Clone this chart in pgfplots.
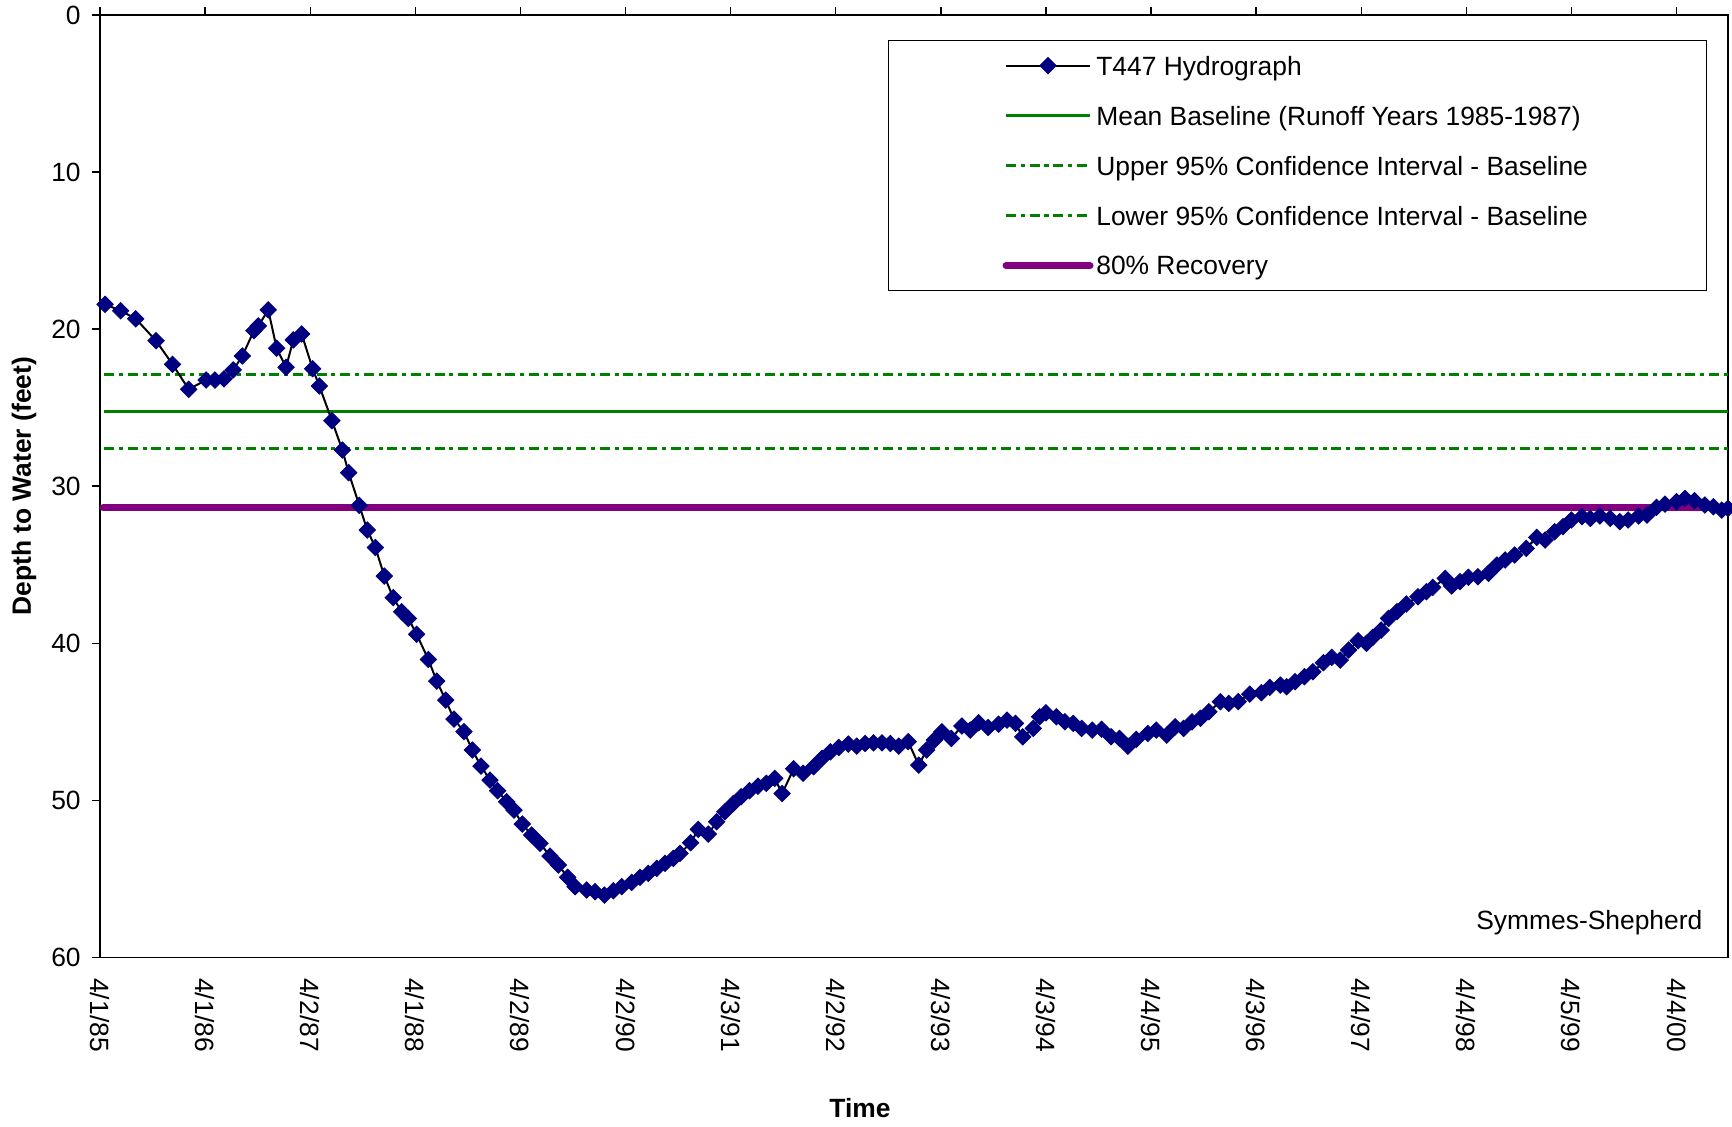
\documentclass[border=0pt]{standalone}
\usepackage{fontspec}
\setmainfont{Liberation Sans}
\usepackage{pgfplots}
\pgfplotsset{compat=1.18}
\definecolor{navy}{RGB}{0,0,128}
\definecolor{cigreen}{RGB}{0,128,0}
\definecolor{recov}{RGB}{128,0,128}
\newcommand{\chartfont}{\fontsize{6.6}{7.9}\selectfont}

% T447 hydrograph, years since 4/1/85 vs depth to water (ft)
\pgfplotstableread{
t d
0.048 18.42
0.197 18.83
0.34 19.34
0.533 20.74
0.69 22.24
0.844 23.83
1.009 23.24
1.094 23.24
1.18 23.16
1.268 22.6
1.354 21.71
1.465 20.1
1.506 19.8
1.601 18.78
1.681 21.22
1.77 22.43
1.839 20.69
1.919 20.31
2.023 22.52
2.087 23.62
2.207 25.83
2.306 27.70
2.366 29.14
2.467 31.22
2.543 32.79
2.62 33.9
2.705 35.72
2.79 37.1
2.87 37.99
2.934 38.42
3.013 39.43
3.124 41.03
3.204 42.41
3.289 43.62
3.368 44.83
3.463 45.63
3.543 46.8
3.625 47.82
3.711 48.71
3.783 49.39
3.869 50.09
3.939 50.62
4.018 51.51
4.107 52.21
4.187 52.74
4.282 53.55
4.361 54.12
4.45 54.9
4.52 55.5
4.63 55.71
4.71 55.82
4.8 56.03
4.884 55.76
4.964 55.5
5.059 55.23
5.138 54.9
5.217 54.65
5.297 54.33
5.376 54.01
5.455 53.7
5.519 53.38
5.62 52.7
5.693 51.85
5.788 52.15
5.867 51.37
5.946 50.73
6.026 50.2
6.10 49.77
6.18 49.39
6.26 49.1
6.34 48.92
6.42 48.6
6.49 49.57
6.60 47.99
6.69 48.28
6.79 47.86
6.87 47.33
6.95 46.91
7.03 46.63
7.12 46.42
7.20 46.55
7.28 46.38
7.36 46.34
7.44 46.34
7.52 46.38
7.60 46.55
7.69 46.27
7.79 47.76
7.865 46.8
7.94 46.16
8.01 45.63
8.10 46.06
8.20 45.27
8.28 45.53
8.36 45.06
8.45 45.36
8.55 45.15
8.63 44.89
8.71 45.1
8.78 45.96
8.88 45.42
8.94 44.68
9.00 44.43
9.10 44.68
9.18 45.0
9.26 45.1
9.34 45.42
9.44 45.53
9.53 45.48
9.62 45.95
9.70 46.06
9.78 46.55
9.86 46.12
9.97 45.74
10.05 45.53
10.15 45.85
10.23 45.32
10.31 45.42
10.39 45.0
10.47 44.78
10.55 44.36
10.66 43.72
10.74 43.83
10.83 43.72
10.94 43.24
11.05 43.15
11.13 42.81
11.23 42.66
11.29 42.77
11.37 42.45
11.46 42.13
11.54 41.81
11.64 41.24
11.72 40.9
11.80 41.07
11.88 40.43
11.97 39.84
12.05 40.01
12.11 39.62
12.19 39.16
12.26 38.42
12.34 37.99
12.43 37.5
12.54 37.04
12.62 36.72
12.68 36.44
12.80 35.87
12.86 36.36
12.94 36.08
13.02 35.8
13.11 35.77
13.21 35.55
13.29 35.02
13.37 34.7
13.46 34.38
13.57 33.96
13.67 33.26
13.75 33.43
13.84 32.9
13.92 32.58
14.00 32.15
14.10 31.94
14.18 32.05
14.27 31.9
14.37 32.05
14.46 32.26
14.54 32.15
14.64 31.9
14.72 31.84
14.81 31.35
14.89 31.14
15.00 30.99
15.08 30.78
15.17 30.92
15.27 31.2
15.35 31.31
15.43 31.52
15.49 31.41
}\hydro

\begin{document}
\begin{tikzpicture}
\begin{axis}[
    name=main,
    scale only axis,
    width=407pt, height=235.6pt,
    xmin=0, xmax=15.49,
    ymin=0, ymax=60,
    y dir=reverse,
    axis line style={black, line width=0.35pt},
    tick style={black, line width=0.35pt},
    tick align=outside,
    major tick length=2pt,
    xtick={0,1,...,15},
    xticklabels={4/1/85,4/1/86,4/2/87,4/1/88,4/2/89,4/2/90,4/3/91,4/2/92,4/3/93,4/3/94,4/4/95,4/3/96,4/4/97,4/4/98,4/5/99,4/4/00},
    xtick pos=upper,
    xticklabel pos=lower,
    xticklabel style={rotate=-90, anchor=west},
    xticklabel shift=-0.3pt,
    ytick={0,10,...,60},
    ytick pos=left,
    yticklabel shift=-0.7pt,
    tick label style={font=\chartfont},
    /pgf/number format/assume math mode=true,
    xlabel={\textbf{Time}},
    ylabel={\textbf{Depth to Water (feet)}},
    every axis x label/.style={at={(axis description cs:0.4668,-0.16)}, anchor=center, font=\chartfont},
    every axis y label/.style={at={(axis description cs:-0.0467,0.5)}, rotate=90, anchor=center, font=\chartfont},
    legend image code/.code={
        \path (0pt,0pt) (50.2pt,0pt);
        \draw[mark repeat=2, mark phase=2, #1] plot coordinates {(28.5pt,0pt) (39pt,0pt) (49.5pt,0pt)};
    },
    legend style={at={(0.484,0.9735)}, anchor=north west, draw=black, line width=0.3pt, fill=white,
        inner xsep=0pt, inner ysep=0pt, row sep=0pt, column sep=0pt,
        cells={anchor=west},
        nodes={inner sep=0pt, minimum height=12.5pt, text depth=0pt, font=\chartfont}},
]
\addlegendimage{black, line width=0.5pt, mark=square*, mark size=1.45pt,
    mark options={rotate=45, fill=navy, draw=navy, line width=0.2pt, solid}}
\addlegendentry{T447 Hydrograph}

\addplot[cigreen, line width=0.7pt] coordinates {(0.04,25.24) (15.49,25.24)};
\addlegendentry{\makebox[152.5pt][l]{Mean Baseline (Runoff Years 1985-1987)}}

\addplot[cigreen, line width=0.75pt, dash pattern=on 2.5pt off 1.2pt on 1pt off 1.2pt] coordinates {(0.04,22.88) (15.49,22.88)};
\addlegendentry{Upper 95\% Confidence Interval - Baseline}

\addplot[cigreen, line width=0.75pt, dash pattern=on 2.5pt off 1.2pt on 1pt off 1.2pt] coordinates {(0.04,27.59) (15.49,27.59)};
\addlegendentry{Lower 95\% Confidence Interval - Baseline}

\addplot[recov, line width=1.75pt, line cap=round] coordinates {(0.03,31.37) (15.49,31.37)};
\addlegendentry{80\% Recovery}

\addplot[forget plot, black, line width=0.5pt, mark=square*, mark size=1.45pt,
    mark options={rotate=45, fill=navy, draw=navy, line width=0.2pt, solid}] table[x=t, y=d] {\hydro};

\node[anchor=east, font=\chartfont] at (axis cs:15.38,57.77) {Symmes-Shepherd};
\end{axis}
\pgfresetboundingbox
\path[use as bounding box] ([xshift=-25pt,yshift=-42.2pt]main.south west) rectangle ([xshift=1pt,yshift=3.75pt]main.north east);
\end{tikzpicture}
\end{document}
